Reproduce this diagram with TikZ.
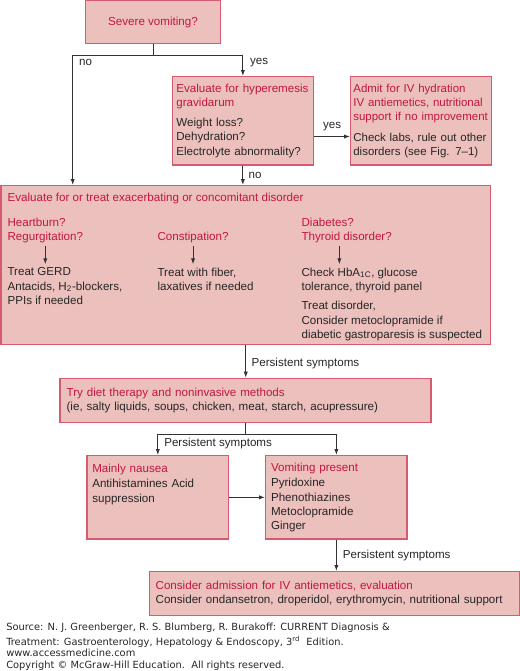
\documentclass[tikz,border=0pt]{standalone}
\usepackage{fontspec}
\setmainfont{Liberation Sans}
\newfontfamily\srcfont{DejaVu Sans}
\usetikzlibrary{positioning, arrows.meta}
\definecolor{boxFill}{RGB}{236,192,188}
\definecolor{boxLine}{RGB}{214,90,112}
\definecolor{headRed}{RGB}{196,22,62}
\definecolor{bodyGray}{RGB}{38,38,38}
\definecolor{lineGray}{RGB}{50,50,50}
\newcommand{\hd}[1]{\textcolor{headRed}{#1}}

\begin{document}
\begin{tikzpicture}[x=0.75pt, y=-0.75pt, >={Latex[length=4.5pt, width=3.2pt]},
    font=\fontsize{8.7}{10.7}\selectfont,
    box/.style={draw=boxLine, fill=boxFill, line width=1pt, anchor=north west,
      align=left, text=bodyGray, inner xsep=3pt, inner ysep=0pt},
    txt/.style={anchor=north west, inner sep=0pt, align=left, text=bodyGray},
    lbl/.style={inner sep=0pt, text=bodyGray},
    conn/.style={draw=lineGray, line width=0.75pt}]
  \useasboundingbox (0,0) rectangle (520,671);

  \node[box, align=center, text=headRed, minimum width=101.5pt, minimum height=32.25pt]
    (sev) at (84.7,0) {Severe vomiting?};
  \node[box, text width=99.75pt, minimum height=66.2pt] (hyp) at (171.7,76)
    {\hd{Evaluate for hyperemesis}\\\hd{gravidarum}\\[4pt]Weight loss?\\Dehydration?\\Electrolyte abnormality?};
  \node[box, font=\fontsize{8.6}{10.7}\selectfont, inner xsep=2pt, text width=101.75pt,
        minimum height=66.2pt, right=27pt of hyp] (adm)
    {\hd{Admit for IV hydration}\\\hd{\mbox{IV antiemetics, nutritional}}\\\hd{\mbox{support if no improvement}}\\[4.5pt]\mbox{Check labs, rule out other}\\disorders (see Fig. 7–1)};

  \node[box, minimum width=366.9pt, minimum height=119.25pt] (eval) at (0.5,185) {};
  \node[txt, text=headRed] (evt) at (7.3,193) {Evaluate for or treat exacerbating or concomitant disorder};
  \node[txt, text=headRed] (hb) at (7.3,217.4) {Heartburn?\\Regurgitation?};
  \node[txt, text=headRed] (cons) at (157.3,231.4) {Constipation?};
  \node[txt, text=headRed] (dm) at (301.3,217.4) {Diabetes?\\Thyroid disorder?};
  \node[txt] (gerd) at (7.3,267.4) {Treat GERD\\Antacids, H\textsubscript{2}-blockers,\\PPIs if needed};
  \node[txt] (fib) at (157.3,267.4) {Treat with fiber,\\laxatives if needed};
  \node[txt] (chk) at (301.3,267.4) {Check HbA\textsubscript{1C}, glucose\\tolerance, thyroid panel\\[4pt]Treat disorder,\\Consider metoclopramide if\\diabetic gastroparesis is suspected};

  \node[box, inner xsep=5pt, text width=268.25pt, minimum height=33pt] (diet) at (59.3,377.7)
    {\hd{Try diet therapy and noninvasive methods}\\(ie, salty liquids, soups, chicken, meat, starch, acupressure)};
  \node[box, inner xsep=4pt, text width=98.25pt, minimum height=62.5pt] (nau) at (86.3,455)
    {\hd{Mainly nausea}\\[1pt]Antihistamines Acid\\suppression\\~\\~};
  \node[box, inner xsep=4pt, text width=98pt, minimum height=62.5pt, right=26.8pt of nau] (vom)
    {\hd{Vomiting present}\\[1pt]Pyridoxine\\Phenothiazines\\Metoclopramide\\Ginger};
  \node[box, inner xsep=4.5pt, text width=268.5pt, minimum height=33pt] (fin) at (149,571)
    {\hd{Consider admission for IV antiemetics, evaluation}\\Consider ondansetron, droperidol, erythromycin, nutritional support};

  \node[txt, font=\srcfont\fontsize{7.4}{8.5}\selectfont] (src) at (6,623)
    {Source: N. J. Greenberger, R. S. Blumberg, R. Burakoff: CURRENT Diagnosis \&\\[2.5pt]Treatment: Gastroenterology, Hepatology \& Endoscopy, 3\textsuperscript{rd}\ \ Edition.\\www.accessmedicine.com\\Copyright © McGraw-Hill Education.\ \ All rights reserved.};

  \coordinate (split) at (sev.south |- 0,55);
  \coordinate (noin) at (72.7,0 |- eval.north);
  \draw[conn] (sev.south) -- (split);
  \draw[conn, ->] (split) -| (noin) node[lbl, pos=0.53, right=4.5pt] (lno) {no};
  \draw[conn, ->] (split) -| (hyp.north) node[lbl, pos=0.67, right=5pt] (lyes) {yes};
  \draw[conn, ->] ([yshift=-11.8pt]hyp.east) -- ([yshift=-11.8pt]adm.west)
    node[lbl, midway, above=4pt] (lyes2) {yes};
  \draw[conn, ->] (hyp.south) -- (hyp.south |- eval.north)
    node[lbl, midway, right=4pt] (lno2) {no};

  \draw[conn, ->, shorten <=2.6pt, shorten >=2.3pt] (hb.south) -- (hb.south |- gerd.north);
  \draw[conn, ->, shorten <=2.6pt, shorten >=2.3pt] (cons.south) -- (cons.south |- fib.north);
  \draw[conn, ->, shorten <=2.6pt, shorten >=2.3pt] ([xshift=-5.5pt]dm.south) -- ([xshift=-5.5pt]dm.south |- chk.north);

  \draw[conn, ->] (eval.south) -- (eval.south |- diet.north)
    node[lbl, pos=0.56, right=4pt] (lp1) {Persistent symptoms};
  \coordinate (split2) at (diet.south |- 0,434.3);
  \draw[conn] (diet.south) -- (split2);
  \draw[conn, ->] (split2) -| (nau.north) node[lbl, pos=0.73, right=4.5pt] (lp2) {Persistent symptoms};
  \draw[conn, ->] (split2) -| (vom.north);
  \draw[conn, ->] (nau) -- (vom);
  \draw[conn, ->] (vom.south) -- (vom.south |- fin.north)
    node[lbl, midway, right=4.5pt] (lp3) {Persistent symptoms};
\end{tikzpicture}
\end{document}
